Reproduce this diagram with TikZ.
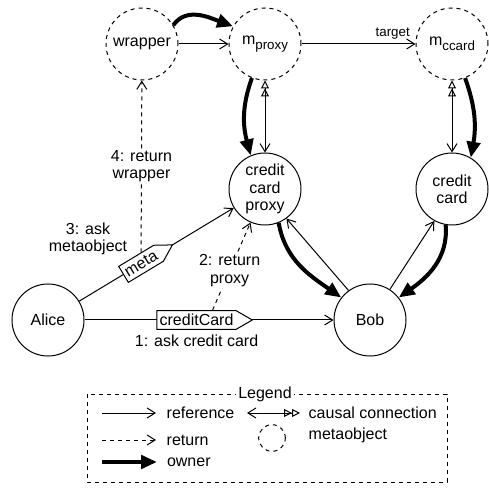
\documentclass[tikz,border=0pt]{standalone}
\usepackage{fontspec}
\setmainfont{Liberation Sans}
\usetikzlibrary{arrows.meta,shapes.symbols,positioning,backgrounds}
\newcommand{\msub}[1]{\raisebox{-4pt}{\fontsize{10}{12}\selectfont #1}}

\begin{document}
\begin{tikzpicture}[x=0.75pt,y=-0.75pt,font=\fontsize{12}{13}\selectfont,
	obj/.style={circle,draw,line width=0.75pt,minimum size=54pt,inner sep=0pt,align=center},
	metaobj/.style={obj,dashed},
	ref/.style={line width=0.75pt,-{Straight Barb[length=6pt,width=7.5pt]}},
	ret/.style={ref,dashed},
	owner/.style={line width=3pt,-{Triangle[length=12pt,width=10pt]}},
	causal/.style={line width=0.75pt,{Triangle[open,length=6pt,width=6pt]Triangle[open,length=6pt,width=6pt]}-{Straight Barb[length=6pt,width=7.5pt]}},
	tag/.style={signal,signal to=east,signal pointer angle=60,draw,fill=white,line width=0.75pt,inner xsep=2pt,inner ysep=1pt,minimum height=14pt},
	lbl/.style={fill=white,align=center,inner sep=1pt}]
	\useasboundingbox (0,0) rectangle (489,488);

	\node[metaobj] (wrapper) at (142,44 ) {wrapper};
	\node[metaobj] (mproxy) at (265,44 ) {m\msub{proxy}};
	\node[metaobj] (mccard) at (452,44 ) {m\msub{ccard}};
	\node[obj    ] (ccproxy) at (265,189) {credit\\card\\proxy};
	\node[obj    ] (ccard) at (452,189) {credit\\card};
	\node[obj    ] (alice) at (48,320 ) {Alice};
	\node[obj    ] (bob) at (370,320) {Bob};

	\draw[ref   ] (wrapper) -- (mproxy);
	\draw[ref   ] (mproxy) -- node[above,pos=0.8,font=\fontsize{10}{12}\selectfont] {target} (mccard);
	\draw[owner ] (wrapper.31) to[out=55,in=160] (mproxy.151);
	\draw[causal] (mproxy) -- (ccproxy);
	\draw[causal] (mccard) -- (ccard);
	\draw[owner ] (mproxy.-111) to[out=-110,in=105] (ccproxy.113);
	\draw[owner ] (mccard.-69) to[out=-70,in=80] (ccard.59);
	\draw[owner ] (ccproxy.-68) to[out=-80,in=145] (bob.142);
	\draw[owner ] (ccard.-100) to[out=-85,in=35] (bob.38);
	\draw[ref   ] (bob.126) -- (ccproxy.-54);
	\draw[ref   ] (bob.57) -- (ccard.-119);

	\draw[ref] (alice) -- node[tag,pos=0.45] (cc) {creditCard} (bob);
	\node[below=0pt of cc] (ask1) {1: ask credit card};
	\draw[ref] (alice) -- node[tag,sloped,pos=0.4] (mt) {meta} (ccproxy);
	\node[align=center] (ask3) at (88,239) {3: ask\\metaobject};

	\begin{scope}[on background layer]
		\draw[ret] (mt) -- node[lbl,pos=0.5] {4: return\\wrapper} (wrapper);
		\draw[ret] ([xshift=12pt]cc.north) -- node[lbl,pos=0.45] {2: return\\proxy} (ccproxy);
	\end{scope}

	\draw[dashed,line width=0.75pt] (87,394) rectangle (447,482);
	\node[fill=white,inner sep=2pt] (legend) at (265,394) {Legend};
	\coordinate (r0) at (102,413); \coordinate (r1) at (156,413);
	\coordinate (d0) at (102,440); \coordinate (d1) at (156,440);
	\coordinate (o0) at (102,462); \coordinate (o1) at (157,462);
	\coordinate (c0) at (300,413); \coordinate (c1) at (247,413);
	\draw[ref   ] (r0) -- (r1); \node[right=4.5pt of r1] (tref) {reference};
	\draw[ret   ] (d0) -- (d1); \node[right=4.5pt of d1] (tret) {return};
	\draw[owner ] (o0) -- (o1); \node[right=4pt of o1] (town) {owner};
	\draw[causal] (c0) -- (c1); \node[right=3pt of c0] (tcau) {causal connection};
	\node[metaobj,minimum size=20pt] (mo) at (272,438) {};
	\node[anchor=west] (tmeta) at (304,435) {metaobject};
\end{tikzpicture}
\end{document}
